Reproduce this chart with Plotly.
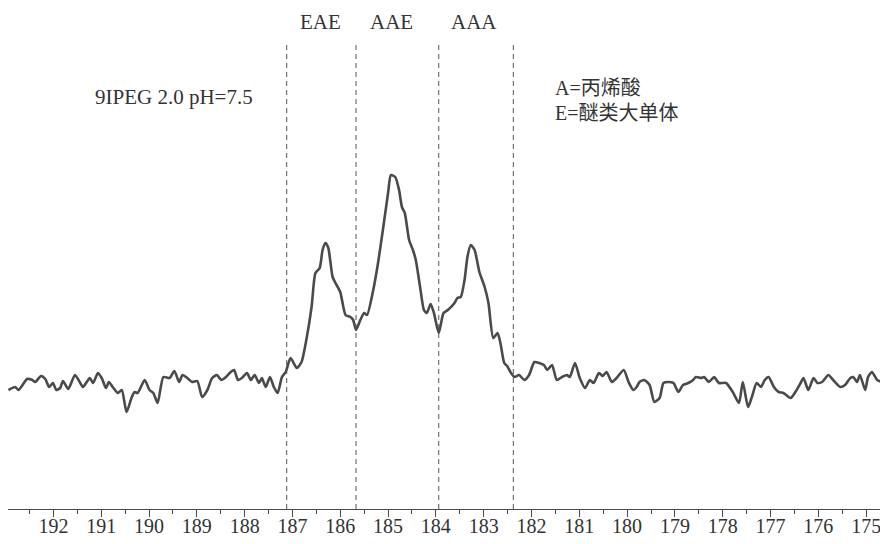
import plotly.graph_objects as go

# Chemical shift (ppm) and intensity (arbitrary units)
ppm = [192.94, 192.80, 192.73, 192.55, 192.44, 192.38, 192.26, 192.17, 192.09, 192.01,
       191.94, 191.86, 191.80, 191.69, 191.55, 191.45, 191.38, 191.24, 191.17, 191.07,
       190.99, 190.90, 190.84, 190.76, 190.65, 190.57, 190.47, 190.36, 190.30, 190.24,
       190.09, 189.99, 189.91, 189.82, 189.70, 189.57, 189.47, 189.37, 189.30, 189.20,
       189.10, 188.99, 188.89, 188.78, 188.68, 188.58, 188.49, 188.39, 188.29, 188.22,
       188.14, 188.06, 187.95, 187.87, 187.79, 187.70, 187.64, 187.56, 187.47, 187.39,
       187.31, 187.22, 187.14, 187.04, 186.91, 186.81, 186.71, 186.60, 186.52, 186.43,
       186.37, 186.31, 186.25, 186.16, 186.10, 186.00, 185.89, 185.79, 185.73, 185.67,
       185.58, 185.50, 185.44, 185.31, 185.21, 185.10, 185.00, 184.94, 184.85, 184.77,
       184.71, 184.65, 184.56, 184.48, 184.42, 184.33, 184.25, 184.19, 184.11, 184.04,
       183.94, 183.84, 183.75, 183.61, 183.55, 183.48, 183.40, 183.34, 183.27, 183.19,
       183.09, 182.98, 182.90, 182.80, 182.71, 182.65, 182.57, 182.51, 182.44, 182.36,
       182.26, 182.15, 182.05, 181.94, 181.84, 181.74, 181.67, 181.57, 181.47, 181.36,
       181.26, 181.20, 181.09, 180.99, 180.88, 180.78, 180.70, 180.59, 180.51, 180.43,
       180.32, 180.22, 180.07, 179.97, 179.87, 179.80, 179.74, 179.64, 179.53, 179.43,
       179.32, 179.24, 179.14, 179.03, 178.93, 178.83, 178.72, 178.62, 178.56, 178.45,
       178.39, 178.29, 178.18, 178.08, 177.93, 177.79, 177.66, 177.58, 177.47, 177.39,
       177.29, 177.20, 177.12, 177.04, 176.93, 176.83, 176.73, 176.58, 176.48, 176.37,
       176.31, 176.21, 176.10, 176.02, 175.92, 175.79, 175.69, 175.54, 175.44, 175.33,
       175.27, 175.19, 175.13, 175.02, 174.96, 174.88, 174.77, 174.67]

intensity = [-5, -2, -5, 6, 5, 3, 9, 6, -2, 2,
             -5, -3, 4, -4, 10, 3, -2, 7, 2, 12,
             7, -3, 3, -2, -8, -5, -27, -12, -7, -8,
             5, -5, -8, -18, 8, 7, 14, 3, 10, 7,
             3, 4, -12, -5, 7, 10, 5, 8, 13, 15,
             5, 7, 12, 5, 10, 2, 7, -2, 8, -2,
             -8, 8, 13, 27, 17, 23, 45, 78, 112, 117,
             135, 142, 137, 108, 102, 93, 70, 68, 65, 55,
             65, 72, 70, 95, 122, 158, 192, 210, 208, 195,
             178, 172, 145, 135, 125, 98, 75, 72, 81, 72,
             52, 72, 75, 82, 87, 88, 105, 128, 140, 135,
             113, 98, 82, 47, 52, 42, 22, 19, 13, 8,
             10, 5, 10, 23, 22, 20, 15, 20, 5, 8,
             10, 8, 22, 7, -3, 5, 2, 12, 9, 13,
             3, 7, 15, 3, -5, -2, 3, 5, 0, -17,
             -13, 2, 3, 2, -7, 0, 2, 5, 8, 7,
             8, 3, 8, 2, 2, -7, -18, 3, -22, -12,
             2, -2, 5, 8, -2, -7, -8, -13, -7, 2,
             7, -5, 7, 2, 3, 10, 5, -2, 0, 7,
             8, 3, 10, -5, 8, 13, 5, 3]

# Triad boundaries (ppm) and labels
boundaries = [187.12, 185.67, 183.94, 182.38]
triad_labels = ["EAE", "AAE", "AAA"]
triad_pos = [186.42, 184.93, 183.21]

tick_vals = list(range(175, 193))
tick_text = [str(v) for v in tick_vals]

sample_label = "9IPEG 2.0 pH=7.5"
legend_lines = ["A=丙烯酸", "E=醚类大单体"]

SERIF = "Liberation Serif, Times New Roman, serif"
CJK = "Liberation Serif, Noto Sans CJK SC, serif"
INK = "#4a4a4a"
TXT = "#333333"

fig = go.Figure()
fig.add_trace(go.Scatter(
    x=ppm, y=intensity, mode="lines",
    line=dict(color=INK, width=2.6, shape="spline", smoothing=0.6),
    hoverinfo="skip", showlegend=False,
))

for b in boundaries:
    fig.add_shape(type="line", xref="x", yref="y", x0=b, x1=b, y0=-124, y1=343,
                  line=dict(color="#555555", width=1, dash="5px,4px"))

for lab, p in zip(triad_labels, triad_pos):
    fig.add_annotation(x=p, y=1, xref="x", yref="paper", yanchor="top",
                       text=lab, showarrow=False,
                       font=dict(family=SERIF, size=21, color=TXT))

fig.add_annotation(x=189.47, y=288, xref="x", yref="y", text=sample_label,
                   showarrow=False, font=dict(family=SERIF, size=21, color=TXT))

fig.add_annotation(x=181.55, y=297, xref="x", yref="y", text=legend_lines[0],
                   xanchor="left", showarrow=False,
                   font=dict(family=CJK, size=20, color=TXT))
fig.add_annotation(x=181.55, y=272, xref="x", yref="y", text=legend_lines[1],
                   xanchor="left", showarrow=False,
                   font=dict(family=CJK, size=20, color=TXT))

fig.update_layout(
    width=872, height=528,
    margin=dict(l=0, r=0, t=0, b=27, autoexpand=False),
    paper_bgcolor="white", plot_bgcolor="white",
    xaxis=dict(
        range=[192.95, 174.71], showgrid=False, zeroline=False, automargin=False,
        showline=True, linecolor=INK, linewidth=1,
        ticks="outside", ticklen=7, tickwidth=1, tickcolor=INK,
        tickmode="array", tickvals=tick_vals, ticktext=tick_text,
        tickfont=dict(family=SERIF, size=20, color=TXT),
        ticklabelstandoff=-8, ticklabeloverflow="allow",
        minor=dict(tickmode="linear", tick0=175.5, dtick=1, ticks="outside",
                   ticklen=4, tickwidth=1, tickcolor=INK, showgrid=False),
    ),
    yaxis=dict(range=[-124, 377], visible=False, showgrid=False, zeroline=False),
)

fig.write_html("out.html")
